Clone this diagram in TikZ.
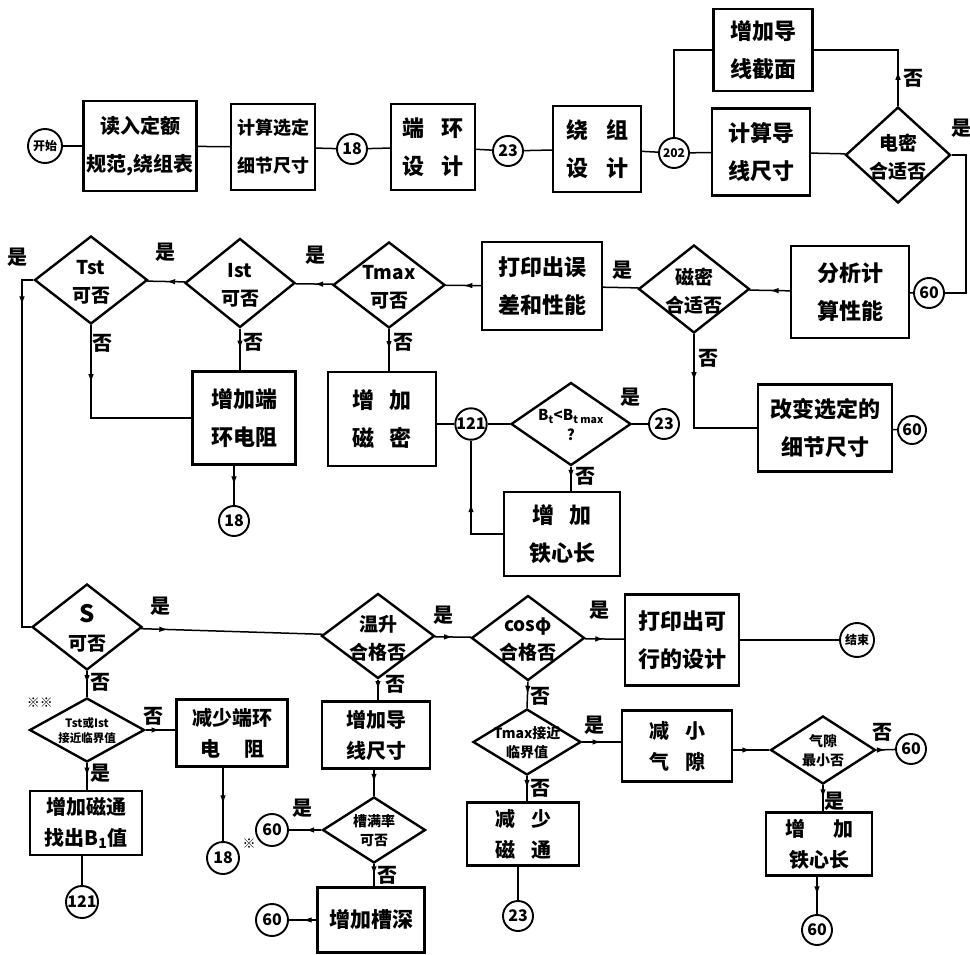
\documentclass[tikz,border=0pt]{standalone}
\usepackage{fontspec}
\setmainfont{Noto Sans CJK SC}
\usetikzlibrary{shapes.geometric,arrows.meta,decorations.markings}
\begin{document}
\begin{tikzpicture}[x=1pt,y=-1pt,
 box/.style={draw,line width=2.4pt,inner sep=0pt,align=center,font=\bfseries\fontsize{22}{38}\selectfont},
 sbox/.style={box,font=\bfseries\fontsize{20}{31}\selectfont},
 dia/.style={diamond,draw,line width=2.4pt,inner sep=0pt},
 dtxt/.style={align=center,font=\bfseries\fontsize{19}{28}\selectfont},
 stxt/.style={align=center,font=\bfseries\fontsize{14}{19}\selectfont},
 circ/.style={circle,draw,line width=1.9pt,inner sep=0pt,minimum size=30pt,font=\bfseries\fontsize{16}{16}\selectfont},
 lab/.style={font=\bfseries\fontsize{20}{20}\selectfont},
 flow/.style={line width=1.5pt},
 ma/.style={postaction={decorate,decoration={markings,mark=at position #1 with {\arrow{Latex[length=9pt,width=5.5pt]}}}}},
 ma/.default=0.5]
\useasboundingbox (0,0) rectangle (970,955);

% ---------- top row ----------
\node[circ,minimum size=34pt,font=\bfseries\fontsize{12}{12}\selectfont] (start) at (45,146) {开始};
\node[box,minimum width=113pt,minimum height=90pt,font=\bfseries\fontsize{20}{38}\selectfont] (b1) at (140,146) {读入定额\\规范,绕组表};
\node[box,minimum width=84pt,minimum height=86pt,font=\bfseries\fontsize{18}{38}\selectfont] (b2) at (273,147) {计算选定\\细节尺寸};
\node[circ] (c18a) at (352,149) {18};
\node[box,minimum width=84pt,minimum height=86pt] (b3) at (433,147) {端\hspace{18pt}环\\设\hspace{18pt}计};
\node[circ] (c23a) at (508,151) {23};
\node[box,minimum width=88pt,minimum height=86pt] (b4) at (597,149) {绕\hspace{18pt}组\\设\hspace{18pt}计};
\node[circ,font=\bfseries\fontsize{12}{12}\selectfont] (c202) at (674,153) {202};
\node[box,minimum width=98pt,minimum height=87pt] (b5) at (761,152) {计算导\\线尺寸};
\node[box,minimum width=99pt,minimum height=82pt] (b6) at (763,50) {增加导\\线截面};
\node[dia,minimum width=105pt,minimum height=96pt] (d1) at (898,155) {};
\node[dtxt] (d1t) at (898,157) {电密\\合适否};
\coordinate (r2) at (966,293);

% ---------- second row ----------
\node[circ] (c60a) at (929,293) {60};
\node[box,minimum width=118pt,minimum height=92pt] (b7) at (850,292) {分析计\\算性能};
\node[dia,minimum width=111pt,minimum height=88pt] (d2) at (694,289) {};
\node[dtxt] (d2t) at (694,291) {磁密\\合适否};
\node[box,minimum width=120pt,minimum height=88pt] (b8) at (542,286) {打印出误\\差和性能};
\node[dia,minimum width=112pt,minimum height=86pt] (d3) at (389,285) {};
\node[dtxt] (d3t) at (389,287) {Tmax\\可否};
\node[dia,minimum width=110pt,minimum height=89pt] (d4) at (240,283) {};
\node[dtxt] (d4t) at (240,285) {Ist\\可否};
\node[dia,minimum width=113pt,minimum height=88pt] (d5) at (91,280) {};
\node[dtxt] (d5t) at (91,282) {Tst\\可否};
\coordinate (lt) at (22,280);
\coordinate (lb) at (22,627);

\node[box,minimum width=103pt,minimum height=93pt] (b9) at (244,418) {增加端\\环电阻};
\node[box,minimum width=108pt,minimum height=94pt] (b10) at (382,419) {增\hspace{16pt}加\\磁\hspace{16pt}密};
\node[circ] (c18b) at (234,521) {18};
\node[circ] (c121a) at (471,424) {121};
\node[dia,minimum width=120pt,minimum height=83pt] (d6) at (571,424) {};
\node[align=center,font=\bfseries\fontsize{15}{20}\selectfont] (d6t) at (571,425) {B\textsubscript{t}<B\textsubscript{t max}\\?};
\node[circ] (c23b) at (664,424) {23};
\node[box,minimum width=116pt,minimum height=84pt] (b11) at (562,534) {增\hspace{16pt}加\\铁心长};
\node[box,minimum width=134pt,minimum height=87pt] (b12) at (825,428) {改变选定的\\细节尺寸};
\node[circ,minimum size=28pt] (c60b) at (912,430) {60};

% ---------- third row ----------
\node[dia,minimum width=110pt,minimum height=86pt] (d7) at (87,627) {};
\node[align=center,font=\bfseries\fontsize{19}{28}\selectfont] (d7t) at (87,628) {{\fontsize{24}{24}\selectfont S}\\可否};
\node[dia,minimum width=113pt,minimum height=85pt] (d8) at (378,636) {};
\node[dtxt] (d8t) at (378,638) {温升\\合格否};
\node[dia,minimum width=113pt,minimum height=85pt] (d9) at (528,638) {};
\node[dtxt] (d9t) at (528,640) {cosφ\\合格否};
\node[box,minimum width=114pt,minimum height=91pt] (b13) at (682,640) {打印出可\\行的设计};
\node[circ,minimum size=34pt,font=\bfseries\fontsize{12}{12}\selectfont] (cend) at (857,640) {结束};

\node[dia,minimum width=115pt,minimum height=64pt] (d10) at (87,730) {};
\node[align=center,font=\bfseries\fontsize{11.5}{15}\selectfont] (d10t) at (87,731) {Tst或Ist\\接近临界值};
\node[sbox,minimum width=111pt,minimum height=67pt] (b14) at (232,733) {减少端环\\电\hspace{24pt}阻};
\node[circ,minimum size=32pt] (c18c) at (223,858) {18};
\node[sbox,minimum width=112pt,minimum height=64pt] (b15) at (86,823) {增加磁通\\找出B\textsubscript{1}值};
\node[circ,minimum size=32pt] (c121b) at (82,902) {121};

\node[sbox,minimum width=108pt,minimum height=67pt] (b16) at (376,735) {增加导\\线尺寸};
\node[dia,minimum width=103pt,minimum height=66pt] (d11) at (374,830) {};
\node[stxt] (d11t) at (374,831) {槽满率\\可否};
\node[circ,minimum size=32pt] (c60c) at (272,830) {60};
\node[sbox,minimum width=107pt,minimum height=65pt,font=\bfseries\fontsize{21}{31}\selectfont] (b17) at (371,920) {增加槽深};
\node[circ,minimum size=32pt] (c60d) at (272,920) {60};

\node[dia,minimum width=108pt,minimum height=66pt] (d12) at (527,742) {};
\node[stxt] (d12t) at (527,743) {Tmax接近\\临界值};
\node[sbox,minimum width=110pt,minimum height=71pt] (b18) at (677,746) {减\hspace{16pt}小\\气\hspace{16pt}隙};
\node[dia,minimum width=105pt,minimum height=68pt] (d13) at (823,750) {};
\node[stxt] (d13t) at (823,751) {气隙\\最小否};
\node[circ] (c60e) at (911,749) {60};
\node[sbox,minimum width=106pt,minimum height=63pt] (b19) at (819,844) {增\hspace{28pt}加\\铁心长};
\node[circ] (c60f) at (817,930) {60};
\node[sbox,minimum width=112pt,minimum height=63pt] (b20) at (523,834) {减\hspace{16pt}少\\磁\hspace{16pt}通};
\node[circ] (c23c) at (518,916) {23};

% ---------- connectors ----------
\draw[flow] (start) -- (b1);
\draw[flow] (b1) -- (b2);
\draw[flow] (b2) -- (c18a);
\draw[flow] (c18a) -- (b3);
\draw[flow] (b3) -- (c23a);
\draw[flow] (c23a) -- (b4);
\draw[flow] (b4) -- (c202);
\draw[flow] (c202) -- (b5);
\draw[flow] (b5) -- (d1);
\draw[flow] (c202.north) |- (b6.west);
\draw[flow,ma=0.25] (d1.north) |- (b6.east);
\draw[flow] (d1.east) -| (r2) -- (c60a);
\draw[flow] (c60a) -- (b7);
\draw[flow,ma] (b7) -- (d2);
\draw[flow] (d2) -- (b8);
\draw[flow,ma] (b8) -- (d3);
\draw[flow,ma] (d3) -- (d4);
\draw[flow,ma] (d4) -- (d5);
\draw[flow,ma=0.1] (d5.west) -- (lt) -- (lb) -- (d7.west);
\draw[flow,ma] (d3.south) -- (d3.south |- b10.north);
\draw[flow,ma] (d4.south) -- (d4.south |- b9.north);
\draw[flow,ma=0.3] (d5.south) |- (b9.west);
\draw[flow,ma] (c18b |- b9.south) -- (c18b);
\draw[flow] (b10.east |- c121a) -- (c121a);
\draw[flow] (c121a) -- (d6);
\draw[flow] (d6) -- (c23b);
\draw[flow,ma] (d6.south) -- (d6.south |- b11.north);
\draw[flow,ma] (b11.west) -| (c121a.south);
\draw[flow,ma=0.3] (d2.south) |- (b12.west);
\draw[flow] (b12) -- (c60b);

\draw[flow,ma=0.15] (d7) -- (d8);
\draw[flow,ma] (d8) -- (d9);
\draw[flow,ma] (d9) -- (b13);
\draw[flow] (b13) -- (cend);
\draw[flow,ma] (d7.south) -- (d10.north);
\draw[flow,ma] (d10.east) -- (b14.west |- d10.east);
\draw[flow,ma] (d10.south) -- (d10.south |- b15.north);
\draw[flow] (c121b |- b15.south) -- (c121b);
\draw[flow,ma] (c18c |- b14.south) -- (c18c);
\draw[flow,ma] (d8.south) -- (d8.south |- b16.north);
\draw[flow,ma] (d11.north |- b16.south) -- (d11.north);
\draw[flow,ma] (d11.west) -- (c60c);
\draw[flow,ma] (d11.south) -- (d11.south |- b17.north);
\draw[flow,ma] (b17.west) -- (c60d);
\draw[flow,ma] (d9.south) -- (d12.north);
\draw[flow,ma] (d12.east) -- (b18.west |- d12.east);
\draw[flow,ma] (d12.south) -- (d12.south |- b20.north);
\draw[flow] (c23c |- b20.south) -- (c23c);
\draw[flow,ma] (b18.east |- d13.west) -- (d13.west);
\draw[flow,ma] (d13.east) -- (c60e);
\draw[flow,ma] (d13.south) -- (d13.south |- b19.north);
\draw[flow,ma] (c60f |- b19.south) -- (c60f);

% ---------- labels ----------
\node[lab] (l1) at (913,78) {否};
\node[lab] (l2) at (961,128) {是};
\node[lab] (l3) at (622,270) {是};
\node[lab] (l4) at (708,358) {否};
\node[lab] (l5) at (18,257) {是};
\node[lab] (l6) at (165,252) {是};
\node[lab] (l7) at (315,255) {是};
\node[lab] (l8) at (102,343) {否};
\node[lab] (l9) at (253,342) {否};
\node[lab] (l10) at (403,342) {否};
\node[lab] (l11) at (630,397) {是};
\node[lab] (l12) at (585,476) {否};
\node[lab] (l13) at (160,606) {是};
\node[lab] (l14) at (443,615) {是};
\node[lab] (l15) at (599,610) {是};
\node[font=\bfseries\fontsize{13}{13}\selectfont] (l16) at (40,703) {※※};
\node[lab] (l17) at (153,716) {否};
\node[lab] (l18) at (100,773) {是};
\node[font=\bfseries\fontsize{13}{13}\selectfont] (l19) at (249,844) {※};
\node[lab] (l20) at (395,684) {否};
\node[lab] (l21) at (302,808) {是};
\node[lab] (l22) at (387,875) {否};
\node[lab] (l23) at (540,696) {否};
\node[lab] (l24) at (594,725) {是};
\node[lab] (l25) at (540,788) {否};
\node[lab] (l26) at (882,732) {否};
\node[lab] (l27) at (834,801) {是};
\node[lab] (l28) at (100,682) {否};
\end{tikzpicture}
\end{document}
